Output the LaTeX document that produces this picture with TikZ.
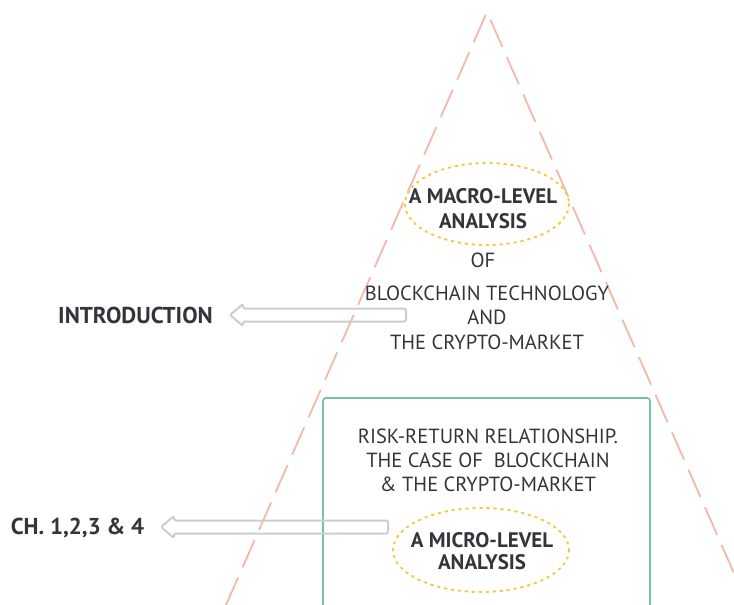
\documentclass[tikz,border=0pt]{standalone}
\usepackage{fontspec}
\setmainfont{PT Sans}
\definecolor{pinkline}{RGB}{244,184,170}
\definecolor{tealbox}{RGB}{118,192,176}
\definecolor{dotyellow}{RGB}{240,204,70}
\definecolor{arrowgray}{RGB}{205,205,205}
\definecolor{txt}{RGB}{50,53,58}
\tikzset{
  lbl/.style={anchor=base, inner sep=0pt, text=txt, font=\fontsize{20.5}{24}\selectfont},
  lblb/.style={lbl, font=\fontsize{21}{24}\selectfont\bfseries},
  sidelbl/.style={lbl, font=\fontsize{23}{26}\selectfont\bfseries},
  pyramid/.style={draw=pinkline, line width=1.8pt, dash pattern=on 30pt off 11pt},
  framebox/.style={draw=tealbox, line width=1.8pt, rounded corners=3pt},
  focus/.style={draw=dotyellow, line width=2pt, dash pattern=on 2pt off 5pt, line cap=round},
  hollowarrow/.style={draw=arrowgray, line width=2pt, rounded corners=2pt, line join=round},
}
\begin{document}
\begin{tikzpicture}[x=1pt,y=-1pt]
\useasboundingbox (0,0) rectangle (734,605);
\begin{scope}
\clip (0,0) rectangle (734,605);
% pyramid
\coordinate (apex) at (487,12);
\coordinate (bl) at (226,605);
\coordinate (br) at (748,605);
\draw[pyramid] (bl) -- (apex) -- (br);
% teal box
\draw[framebox] (323,625) -- (323,398) -- (650,398) -- (650,625);
% ellipses
\draw[focus] (487,204) ellipse [x radius=82, y radius=41];
\draw[focus] (481,550) ellipse [x radius=88, y radius=42];
% arrows
\draw[hollowarrow] (406,308.5) -- (243,308.5) -- (243,304) -- (230,315) -- (243,326) -- (243,321.5) -- (406,321.5) -- cycle;
\draw[hollowarrow] (388,520.5) -- (174,520.5) -- (174,516) -- (161,527) -- (174,538) -- (174,533.5) -- (388,533.5) -- cycle;
\end{scope}
% texts
\node[lblb] (m1) at (483,203) {A MACRO-LEVEL};
\node[lblb] (m2) at (483,228) {ANALYSIS};
\node[lbl] (t1) at (483,267) {OF};
\node[lbl] (t2) at (487,300) {BLOCKCHAIN TECHNOLOGY};
\node[lbl] (t3) at (487,324) {AND};
\node[lbl] (t4) at (487,349) {THE CRYPTO-MARKET};
\node[sidelbl] (intro) at (135.5,323) {INTRODUCTION};
\node[lbl] (r1) at (488,443) {RISK-RETURN RELATIONSHIP.};
\node[lbl] (r2) at (488,467) {THE CASE OF\ \ BLOCKCHAIN};
\node[lbl] (r3) at (488,491) {\& THE CRYPTO-MARKET};
\node[sidelbl] (ch) at (77.5,534) {CH. 1,2,3 \& 4};
\node[lblb] (u1) at (482,547) {A MICRO-LEVEL};
\node[lblb] (u2) at (482,569) {ANALYSIS};
\end{tikzpicture}
\end{document}
